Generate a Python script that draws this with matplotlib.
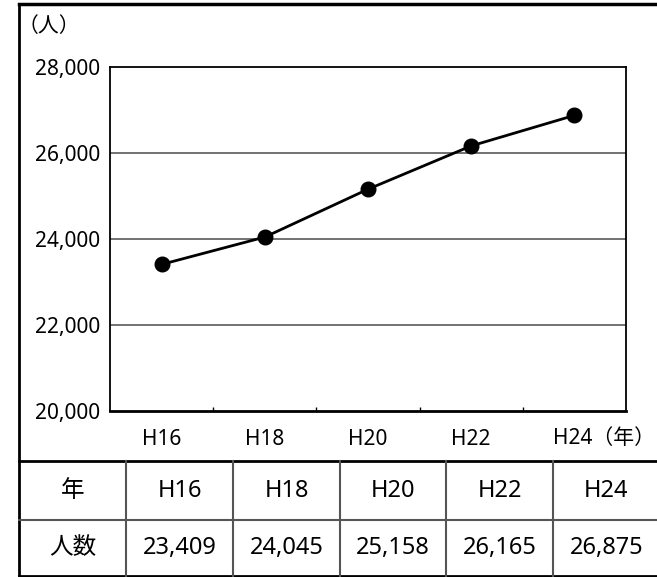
import matplotlib
matplotlib.use("Agg")
import matplotlib.pyplot as plt

plt.rcParams['font.family'] = ['Noto Sans', 'Noto Sans CJK JP', 'DejaVu Sans']

# data
years = ["H16", "H18", "H20", "H22", "H24"]
people = [23409, 24045, 25158, 26165, 26875]
y_ticks = [20000, 22000, 24000, 26000, 28000]

W, H = 657, 577
fig = plt.figure(figsize=(W / 100, H / 100), dpi=100)

# frame / table layer in pixel coordinates
bg = fig.add_axes([0, 0, 1, 1])
bg.set_xlim(0, W)
bg.set_ylim(H, 0)
bg.axis("off")

# line chart
left, right, top, bottom = 110, 626, 67, 411
ax = fig.add_axes([left / W, 1 - bottom / H, (right - left) / W, (bottom - top) / H])
x = list(range(len(years)))
ax.plot(x, people, color="black", lw=2, marker="o", ms=10.5, zorder=3)
ax.set_xlim(-0.5, len(years) - 0.5)
ax.set_ylim(y_ticks[0], y_ticks[-1])
ax.set_yticks(y_ticks)
ax.set_yticklabels([f"{v:,}" for v in y_ticks], fontsize=15)
ax.set_xticks(x)
# last label carries the unit, drawn below as one text
ax.set_xticklabels(years[:-1] + [""], fontsize=15)
ax.set_xticks([i + 0.5 for i in x[:-1]], minor=True)
ax.tick_params(axis="x", which="major", length=0, pad=13)
ax.tick_params(axis="x", which="minor", direction="in", length=3, width=1)
ax.tick_params(axis="y", length=0, pad=7)
for v in y_ticks[1:-1]:
    ax.axhline(v, color="#666666", lw=1.3, zorder=1)
for s in ["left", "top", "right"]:
    ax.spines[s].set_linewidth(1.3)
ax.spines["bottom"].set_linewidth(2)

ax.annotate(years[-1] + "（年）", xy=(x[-1], 0), xycoords=("data", "axes fraction"),
            xytext=(-21, -27), textcoords="offset pixels",
            fontsize=15, ha="left", va="center")

bg.text(18, 27, "（人）", fontsize=15, ha="left", va="center")

# outer frame
bg.plot([19, 19], [4, 576], color="black", lw=2)
bg.plot([19, W], [4, 4], color="black", lw=2.5)
bg.plot([19, W], [576, 576], color="black", lw=2)
bg.plot([19, W], [461, 461], color="black", lw=2)
bg.plot([19, W], [520, 520], color="#555555", lw=1.5)

# table
col_edges = [19, 126, 233, 340, 446, 553, 660]
for xe in col_edges[1:-1]:
    bg.plot([xe, xe], [461, 576], color="#555555", lw=1.5)
row1 = ["年"] + years
row2 = ["人数"] + [f"{v:,}" for v in people]
for i in range(len(row1)):
    cx = (col_edges[i] + col_edges[i + 1]) / 2
    bg.text(cx, 491, row1[i], fontsize=17, ha="center", va="center")
    bg.text(cx, 548, row2[i], fontsize=17, ha="center", va="center")

fig.savefig("out.png", dpi=100)
